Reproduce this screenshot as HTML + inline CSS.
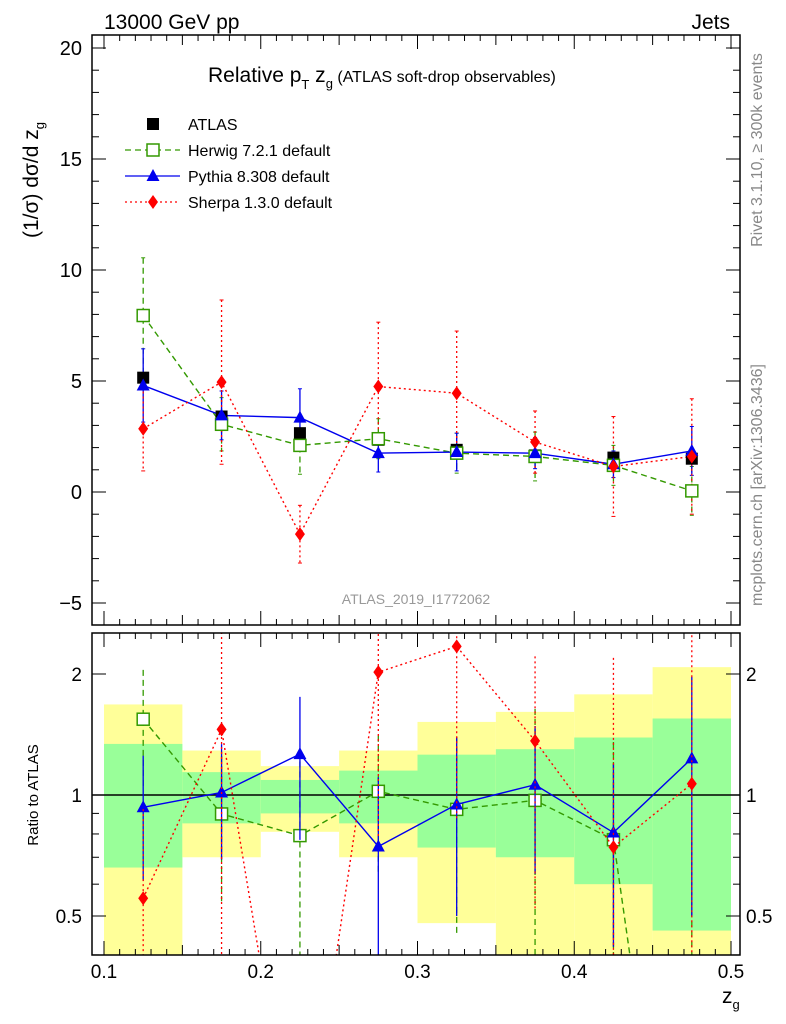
<!DOCTYPE html>
<html><head><meta charset="utf-8"><style>
html,body{margin:0;padding:0;background:#fff;width:786px;height:1024px;overflow:hidden;}
svg{display:block;font-family:"Liberation Sans",sans-serif;}
</style></head><body>
<svg id="chart" width="786" height="1024" xmlns="http://www.w3.org/2000/svg">
<defs>
<clipPath id="cm"><rect x="92" y="35" width="648" height="590"/></clipPath>
<clipPath id="cr"><rect x="92" y="633" width="648" height="322"/></clipPath>
</defs>
<g id="bands" clip-path="url(#cr)"></g>
<line x1="92" x2="740" y1="795" y2="795" stroke="#000" stroke-width="1.5"/>
<g id="ticks"></g>
<g id="marks-main" clip-path="url(#cm)"></g>
<g id="marks-ratio" clip-path="url(#cr)"></g>
<rect x="92" y="35" width="648" height="590" fill="none" stroke="#000" stroke-width="1.5"/>
<rect x="92" y="633" width="648" height="322" fill="none" stroke="#000" stroke-width="1.5"/>
<text x="104" y="29" font-size="21">13000 GeV pp</text>
<text x="730" y="29" font-size="21" text-anchor="end">Jets</text>
<text x="208" y="82" font-size="21">Relative p<tspan font-size="13" dy="7">T</tspan><tspan dy="-7"> z</tspan><tspan font-size="13" dy="6">g</tspan><tspan dy="-6" font-size="16"> (ATLAS soft-drop observables)</tspan></text>
<text x="416" y="604" font-size="14" fill="#999" text-anchor="middle">ATLAS_2019_I1772062</text>
<text x="38" y="180" font-size="21" transform="rotate(-90 38 180)" text-anchor="middle">(1/σ) dσ/d z<tspan font-size="13" dy="6">g</tspan></text>
<text x="38" y="795" font-size="15" transform="rotate(-90 38 795)" text-anchor="middle">Ratio to ATLAS</text>
<text x="762" y="150" font-size="16" fill="#888" transform="rotate(-90 762 150)" text-anchor="middle">Rivet 3.1.10, ≥ 300k events</text>
<text x="762" y="485" font-size="16" fill="#888" transform="rotate(-90 762 485)" text-anchor="middle">mcplots.cern.ch [arXiv:1306.3436]</text>
<text x="722" y="1003" font-size="21">z<tspan font-size="13" dy="6">g</tspan></text>
<g id="legend"></g>
</svg>
<script>
var bins=[0.125,0.175,0.225,0.275,0.325,0.375,0.425,0.475];
var atlas=[5.15,3.4,2.65,2.35,1.9,1.65,1.55,1.5];
var herwig=[7.95,3.05,2.1,2.4,1.75,1.6,1.2,0.05];
var herwigErr=[2.6,1.2,1.3,0.9,0.9,1.1,0.9,1.1];
var pythia=[4.8,3.45,3.35,1.75,1.8,1.75,1.25,1.85];
var pythiaErr=[1.65,1.1,1.3,0.85,0.85,0.7,0.6,1.1];
var sherpa=[2.85,4.95,-1.9,4.75,4.45,2.25,1.15,1.6];
var sherpaErr=[1.9,3.7,1.3,2.9,2.8,1.4,2.25,2.6];
var yellowHi=[1.68,1.29,1.18,1.29,1.52,1.61,1.78,2.08];
var yellowLo=[0.3,0.70,0.81,0.70,0.48,0.3,0.3,0.3];
var greenHi=[1.34,1.14,1.09,1.15,1.26,1.30,1.39,1.55];
var greenLo=[0.66,0.85,0.90,0.85,0.74,0.70,0.60,0.46];
var mainTicks=[-5,0,5,10,15,20];
var xTicks=[0.1,0.2,0.3,0.4,0.5];
var ratioTicks=[0.5,1,2];

var NSP='http://www.w3.org/2000/svg';
function mk(t,a,p){var e=document.createElementNS(NSP,t);for(var k in a){e.setAttribute(k,String(a[k]));}p.appendChild(e);return e;}
var PL=92,PR=740,MT=35,MB=625,RT=633,RB=955;
function sx(v){return 104+(v-0.1)*1567.5;}
function sy(v){return 492-v*22.2;}
function ry(r){return 795-121*Math.log(r)/Math.LN2;}
function ryc(r){var y=r>0?ry(r):2000;return Math.max(RT,Math.min(RB,y));}
function rys(r){return r>0?ry(r):1200;}
var gBands=document.getElementById('bands');
var gTicks=document.getElementById('ticks');
var gm=document.getElementById('marks-main');
var gr=document.getElementById('marks-ratio');
var gLeg=document.getElementById('legend');

try{
for(var i=0;i<bins.length;i++){
  var x0=sx(bins[i]-0.025),x1=sx(bins[i]+0.025);
  var yb=mk('rect',{x:x0,y:ryc(yellowHi[i]),width:x1-x0,height:ryc(yellowLo[i])-ryc(yellowHi[i]),fill:'#ffff99'},gBands);
  
  
  var gb=mk('rect',{x:x0,y:ryc(greenHi[i]),width:x1-x0,height:ryc(greenLo[i])-ryc(greenHi[i]),fill:'#99ff99'},gBands);
  
  
}
}catch(e){}

try{
for(var j=0;j<=40;j++){
  var xv=sx(0.1+j*0.01);
  if(xv<PL||xv>PR)continue;
  var len=(j%10==0)?14:((j%5==0)?10:6);
  var sides=[[MB,-1],[MT,1],[RB,-1],[RT,1]];
  for(var s=0;s<4;s++){mk('line',{x1:xv,x2:xv,y1:sides[s][0],y2:sides[s][0]+sides[s][1]*len,stroke:'#000'},gTicks);}
}
for(var k=0;k<xTicks.length;k++){
  var t=mk('text',{x:sx(xTicks[k]),y:978,'font-size':19,'text-anchor':'middle'},gTicks);
  t.textContent=xTicks[k].toFixed(1);
  
  
}
for(var v=-6;v<=20;v++){
  var yv=sy(v);if(yv<MT||yv>MB)continue;
  var ln=(v%5==0)?14:7;
  mk('line',{x1:PL,x2:PL+ln,y1:yv,y2:yv,stroke:'#000'},gTicks);
  mk('line',{x1:PR,x2:PR-ln,y1:yv,y2:yv,stroke:'#000'},gTicks);
}
for(var m=0;m<mainTicks.length;m++){
  var tv=mainTicks[m];
  var t2=mk('text',{x:82,y:sy(tv)+7,'font-size':20,'text-anchor':'end'},gTicks);
  t2.textContent=tv<0?('\u2212'+(-tv)):String(tv);
  
  
}
var rminor=[0.4,0.5,0.6,0.7,0.8,0.9,1,2];
for(var q=0;q<rminor.length;q++){
  var yq=ry(rminor[q]);if(yq<RT||yq>RB)continue;
  var lq=(ratioTicks.indexOf(rminor[q])>=0)?14:7;
  mk('line',{x1:PL,x2:PL+lq,y1:yq,y2:yq,stroke:'#000'},gTicks);
  mk('line',{x1:PR,x2:PR-lq,y1:yq,y2:yq,stroke:'#000'},gTicks);
}
for(var w=0;w<ratioTicks.length;w++){
  var ta=mk('text',{x:82,y:ry(ratioTicks[w])+7,'font-size':19,'text-anchor':'end'},gTicks);
  ta.textContent=String(ratioTicks[w]);
  
  
  var tb=mk('text',{x:746,y:ry(ratioTicks[w])+7,'font-size':19,'text-anchor':'start'},gTicks);
  tb.textContent=String(ratioTicks[w]);
  
  
}
}catch(e){}

function marker(kind,x,y,c,g){
  if(kind=='sq')return mk('rect',{x:x-6,y:y-6,width:12,height:12,fill:'#fff',stroke:c,'stroke-width':1.5},g);
  if(kind=='tri')return mk('polygon',{points:x+','+(y-7)+' '+(x-6.5)+','+(y+5)+' '+(x+6.5)+','+(y+5),fill:c},g);
  if(kind=='dia')return mk('polygon',{points:x+','+(y-7)+' '+(x-5)+','+y+' '+x+','+(y+7)+' '+(x+5)+','+y,fill:c},g);
  return mk('rect',{x:x-6,y:y-6,width:12,height:12,fill:'#000'},g);
}

var series=[
 {name:'herwig',v:herwig,e:herwigErr,c:'#339900',dash:'6,4',m:'sq'},
 {name:'pythia',v:pythia,e:pythiaErr,c:'#0000ee',dash:'none',m:'tri'},
 {name:'sherpa',v:sherpa,e:sherpaErr,c:'#ff0000',dash:'2,3',m:'dia'}];

try{
for(var a=0;a<series.length;a++){
  var S=series[a];
  var pm=[],pr=[];
  for(var b=0;b<bins.length;b++){pm.push(sx(bins[b])+','+sy(S.v[b]));pr.push(sx(bins[b])+','+rys(S.v[b]/atlas[b]));}
  var l1=mk('polyline',{points:pm.join(' '),fill:'none',stroke:S.c,'stroke-width':1.4,'stroke-dasharray':S.dash},gm);
  
  
  var l2=mk('polyline',{points:pr.join(' '),fill:'none',stroke:S.c,'stroke-width':1.4,'stroke-dasharray':S.dash},gr);
  
  
  for(var b2=0;b2<bins.length;b2++){
    var xx=sx(bins[b2]);
    var hiv=S.v[b2]+S.e[b2],lov=S.v[b2]-S.e[b2];
    mk('line',{x1:xx,x2:xx,y1:sy(hiv),y2:sy(lov),stroke:S.c,'stroke-width':1.3,'stroke-dasharray':S.dash},gm);
    mk('line',{x1:xx-2,x2:xx+2,y1:sy(hiv),y2:sy(hiv),stroke:S.c},gm);
    mk('line',{x1:xx-2,x2:xx+2,y1:sy(lov),y2:sy(lov),stroke:S.c},gm);
    mk('line',{x1:xx,x2:xx,y1:rys(hiv/atlas[b2]),y2:rys(lov/atlas[b2]),stroke:S.c,'stroke-width':1.3,'stroke-dasharray':S.dash},gr);
    if(S.v[b2]>0){
      var mr=marker(S.m,xx,ry(S.v[b2]/atlas[b2]),S.c,gr);
      
      
    }
  }
}
for(var d=0;d<bins.length;d++){
  var dp=marker('data',sx(bins[d]),sy(atlas[d]),'#000',gm);
  
  
}
for(var a2=0;a2<series.length;a2++){
  for(var b3=0;b3<bins.length;b3++){
    var pt=marker(series[a2].m,sx(bins[b3]),sy(series[a2].v[b3]),series[a2].c,gm);
    
    
  }
}
}catch(e){}

try{
var lg=[['ATLAS','data','#000','none',false],['Herwig 7.2.1 default','sq','#339900','6,4',true],['Pythia 8.308 default','tri','#0000ee','none',true],['Sherpa 1.3.0 default','dia','#ff0000','2,3',true]];
for(var n=0;n<lg.length;n++){
  var ly=124+n*26;
  var g=mk('g',{},gLeg);
  
  
  if(lg[n][4])mk('line',{x1:125,x2:180,y1:ly,y2:ly,stroke:lg[n][2],'stroke-width':1.3,'stroke-dasharray':lg[n][3]},g);
  marker(lg[n][1],153,ly,lg[n][2],g);
  var lt=mk('text',{x:188,y:ly+6,'font-size':16},g);
  lt.textContent=lg[n][0];
}
}catch(e){}
</script>
</body></html>
